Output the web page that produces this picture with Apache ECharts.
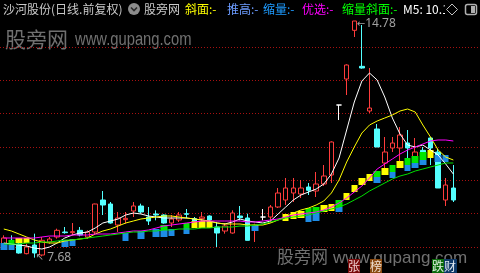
<!DOCTYPE html>
<html><head><meta charset="utf-8">
<script src="https://cdn.jsdelivr.net/npm/echarts@6/dist/echarts.min.js"></script>
<style>html,body{margin:0;padding:0;background:#000;}#c{width:480px;height:273px;}</style>
</head><body><div id="c"></div>
<script>
const categories = ['01','02','03','04','05','06','07','08','09','10','11','12','13','14','15','16','17','18','19','20',
'21','22','23','24','25','26','27','28','29','30','31','32','33','34','35','36','37','38','39','40',
'41','42','43','44','45','46','47','48','49','50','51','52','53','54','55','56','57','58','59','60'];

const openP  = [8.00,8.20,8.09,7.80,8.06,7.76,8.15,8.30,8.45,8.43, 8.50,8.30,8.45,9.41,9.29,8.66,8.82,9.08,9.23,8.90,
                8.99,8.96,8.72,8.81,9.00,8.85,8.85,8.93,8.60,8.48, 8.42,8.93,8.87,8.50,8.90,8.90,9.20,9.41,9.62,9.59,
                9.80,9.68,9.89,10.16,12.26,13.04,14.50,13.42,12.08,11.54, 10.52,10.97,10.97,11.12,10.70,10.90,11.27,10.85,9.41,9.77];
const closeP = [8.27,8.10,7.82,8.00,7.82,8.20,8.24,8.50,8.43,8.46, 8.36,8.45,9.29,9.26,8.72,8.87,8.86,9.23,9.05,8.78,
                8.96,8.72,8.84,8.96,8.98,8.78,8.90,8.81,8.42,8.63, 9.02,8.88,8.20,8.66,8.90,9.20,9.62,9.77,9.77,9.77,
                9.70,9.89,10.13,11.15,12.26,13.46,14.78,13.37,12.17,11.00, 10.85,11.12,11.36,10.97,10.85,10.75,10.97,9.77,9.86,9.41];
const lowP   = [7.98,8.05,7.80,7.78,7.68,7.72,8.10,8.25,8.40,8.35, 8.32,8.25,8.38,8.96,8.70,8.45,8.70,8.90,9.00,8.66,
                8.80,8.70,8.60,8.75,8.86,8.75,8.78,8.78,8.00,8.40, 8.40,8.80,8.20,8.15,8.80,8.72,9.17,9.26,9.35,9.47,
                9.56,9.50,9.83,9.92,11.81,12.56,14.30,13.35,12.02,11.00, 10.37,10.85,10.52,10.52,10.55,10.70,10.46,9.77,9.23,9.35];
const highP  = [8.35,8.35,8.15,8.10,8.40,8.30,8.30,8.55,8.60,8.72, 8.60,8.50,9.30,9.68,9.35,9.05,9.05,9.35,9.30,9.20,
                9.10,8.98,8.96,9.05,9.14,8.90,9.05,8.95,8.75,8.72, 9.10,9.23,9.00,8.70,9.14,9.26,9.77,10.07,10.07,10.01,
                9.92,10.25,10.46,11.17,12.26,13.48,14.78,14.66,13.37,11.69, 11.30,11.30,11.60,11.51,11.27,11.00,11.30,10.95,10.07,10.46];

const ma5  = [8.12,8.09,8.06,8.03,7.97,7.94,8.00,8.12,8.27,8.36, 8.42,8.45,8.57,8.72,8.78,8.84,8.96,9.02,8.99,8.93,
              8.90,8.87,8.87,8.87,8.87,8.84,8.81,8.78,8.72,8.69, 8.75,8.84,8.78,8.75,8.72,8.78,8.99,9.20,9.41,9.56,
              9.65,9.74,9.89,10.19,10.67,11.51,12.35,12.98,13.22,13.01, 12.50,11.87,11.39,11.06,11.00,11.06,10.91,10.76,10.49,10.19];
const ma10 = [8.54,8.48,8.39,8.30,8.21,8.15,8.12,8.12,8.18,8.21, 8.24,8.27,8.39,8.48,8.54,8.63,8.72,8.78,8.84,8.87,
              8.90,8.93,8.93,8.90,8.87,8.84,8.81,8.78,8.72,8.69, 8.69,8.69,8.66,8.66,8.66,8.72,8.81,8.90,9.02,9.11,
              9.17,9.26,9.38,9.62,10.01,10.55,11.00,11.42,11.66,11.78, 11.87,11.96,12.08,12.14,12.05,11.66,11.30,10.91,10.70,10.61];
const ma20 = [8.27,8.27,8.27,8.27,8.27,8.30,8.33,8.33,8.33,8.36, 8.36,8.36,8.39,8.39,8.39,8.42,8.45,8.48,8.48,8.51,
              8.57,8.63,8.66,8.69,8.72,8.75,8.78,8.78,8.78,8.78, 8.78,8.78,8.75,8.75,8.78,8.81,8.84,8.90,8.96,8.99,
              9.02,9.05,9.11,9.20,9.32,9.47,9.65,9.83,10.07,10.34, 10.49,10.64,10.79,10.91,11.00,11.09,11.18,11.21,11.21,11.18];
const ma60 = [8.09,8.09,8.09,8.12,8.12,8.15,8.15,8.18,8.21,8.21, 8.24,8.27,8.30,8.33,8.36,8.39,8.42,8.45,8.45,8.48,
              8.48,8.51,8.51,8.54,8.54,8.54,8.57,8.57,8.60,8.60, 8.60,8.63,8.63,8.66,8.69,8.75,8.81,8.87,8.90,8.93,
              8.96,9.02,9.08,9.14,9.20,9.29,9.41,9.53,9.68,9.80, 9.92,10.04,10.13,10.19,10.28,10.34,10.40,10.46,10.52,10.52];

// signal boxes: [index, bottom, top]
const yellowBoxes = [[2,8.12,8.27],[3,8.12,8.27],[25,8.57,8.78],[26,8.57,8.78],[27,8.57,8.78],[37,8.78,8.99],[38,8.84,9.05],
  [39,8.87,9.08],[42,9.05,9.26],[43,9.08,9.29],[45,9.41,9.62],[46,9.65,9.86],[47,9.86,10.07],[48,9.98,10.19],
  [50,10.16,10.37],[52,10.37,10.58],[56,10.67,10.91]];
const greenBoxes = [[1,8.06,8.21],[21,8.51,8.66],[24,8.57,8.72],[40,8.99,9.17],[41,9.05,9.20],[44,9.20,9.41],
  [49,10.10,10.28],[51,10.25,10.46],[53,10.46,10.67],[54,10.52,10.73],[55,10.61,10.85]];
const blueBoxes = [[0,7.91,8.12],[1,7.91,8.06],[8,8.00,8.21],[9,8.03,8.24],[16,8.18,8.42],[18,8.24,8.48],[20,8.30,8.54],
  [21,8.30,8.51],[22,8.33,8.54],[24,8.39,8.57],[33,8.48,8.66],[40,8.75,8.99],[41,8.78,9.05],[44,9.05,9.20],
  [49,9.92,10.10],[51,10.07,10.25],[53,10.28,10.46],[54,10.37,10.52],[55,10.46,10.61],[57,10.55,10.76],[58,10.55,10.76]];

const yTicks = [8, 14, 1];

const kData = categories.map((c, i) => [openP[i], closeP[i], lowP[i], highP[i]]);
const hiVal = Math.max.apply(null, highP), hiIdx = highP.indexOf(hiVal);
const loVal = Math.min.apply(null, lowP), loIdx = lowP.indexOf(loVal);

function boxData(list) {
  const arr = categories.map(() => ['-', '-', '-', '-']);
  list.forEach(b => { arr[b[0]] = [b[1], b[2], b[1], b[2]]; });
  return arr;
}
function boxSeries(name, list, col) {
  return { name: name, type: 'candlestick', data: boxData(list), barWidth: 7, clip: false, silent: true,
    itemStyle: { color: col, color0: col, borderColor: col, borderColor0: col, borderWidth: 0 } };
}
function maSeries(name, d, col) {
  return { name: name, type: 'line', data: d, showSymbol: false, symbol: 'none', clip: false, silent: true,
    lineStyle: { color: col, width: 1 } };
}

const CJK = '"Noto Sans CJK SC"';
const chart = echarts.init(document.getElementById('c'), null, { renderer: 'canvas' });
const wm = 'rgba(140,140,140,0.8)';
const richLbl = { a: { fontFamily: 'DejaVu Sans', fontSize: 10, color: '#C8C8C8' },
                  b: { fontFamily: 'Noto Sans', fontSize: 12, color: '#C8C8C8' } };
chart.setOption({
  backgroundColor: '#000000',
  animation: false,
  grid: { left: 0, right: 0, top: 47, bottom: 26 },
  xAxis: { type: 'category', data: categories, max: categories.length + 2, boundaryGap: true,
    axisLine: { show: false }, axisTick: { show: false }, axisLabel: { show: false }, splitLine: { show: false } },
  yAxis: { type: 'value', min: yTicks[0], max: yTicks[1], interval: yTicks[2],
    axisLine: { show: false }, axisTick: { show: false }, axisLabel: { show: false },
    splitLine: { show: true, lineStyle: { color: '#A81010', width: 1, type: [1, 2] } } },
  series: [
    { name: 'K', type: 'candlestick', data: kData, barWidth: 5, clip: false,
      itemStyle: { color: '#000000', color0: '#54FFFF', borderColor: '#FF3C3C', borderColor0: '#54FFFF',
        borderColorDoji: '#FFFFFF', borderWidth: 1 }
    },
    maSeries('MA5', ma5, '#FFFFFF'),
    maSeries('MA10', ma10, '#FFFF00'),
    maSeries('MA20', ma20, '#FF00FF'),
    maSeries('MA60', ma60, '#00E000'),
    boxSeries('斜面', yellowBoxes, '#FFFF00'),
    boxSeries('缩量斜面', greenBoxes, '#00E600'),
    boxSeries('缩量', blueBoxes, '#1E8CE6'),
    { name: 'extremes', type: 'scatter', silent: true, clip: false, symbolSize: 1,
      itemStyle: { color: 'rgba(0,0,0,0)' },
      data: [
        { value: [hiIdx, hiVal], label: { show: true, position: 'right', distance: 2, offset: [0, 3], rich: richLbl,
            formatter: '{a|←}{b|' + hiVal.toFixed(2) + '}' } },
        { value: [loIdx, loVal], label: { show: true, position: 'right', distance: 1, offset: [0, 0], rich: richLbl,
            formatter: '{a|↖ }{b|' + loVal.toFixed(2) + '}' } }
      ] }
  ],
  graphic: [
    { type: 'text', x: 5, y: 39, silent: true, style: { text: '股旁网', font: '21px ' + CJK, fill: wm, verticalAlign: 'middle' } },
    { type: 'text', x: 75, y: 40, scaleX: 0.82, silent: true, style: { text: 'www.gupang.com', font: '18px "Liberation Sans"', fill: wm, verticalAlign: 'middle' } },
    { type: 'text', x: 277, y: 257, silent: true, style: { text: '股旁网', font: '17px ' + CJK, fill: wm, verticalAlign: 'middle' } },
    { type: 'text', x: 333, y: 258, silent: true, style: { text: 'www.gupang.com', font: '17px "Liberation Sans"', fill: wm, verticalAlign: 'middle' } },

    { type: 'rect', shape: { x: 348, y: 259, width: 12, height: 14 }, style: { fill: '#7A0A0A' } },
    { type: 'text', x: 354, y: 266, style: { text: '张', font: '12px ' + CJK, fill: '#F0D0D0', align: 'center', verticalAlign: 'middle' } },
    { type: 'rect', shape: { x: 370, y: 259, width: 12, height: 14 }, style: { fill: '#8A4A10' } },
    { type: 'text', x: 376, y: 266, style: { text: '榜', font: '12px ' + CJK, fill: '#F0E0D0', align: 'center', verticalAlign: 'middle' } },
    { type: 'rect', shape: { x: 432, y: 259, width: 12, height: 14 }, style: { fill: '#0A6A0A' } },
    { type: 'text', x: 438, y: 266, style: { text: '跌', font: '12px ' + CJK, fill: '#E0F0E0', align: 'center', verticalAlign: 'middle' } },
    { type: 'rect', shape: { x: 444, y: 259, width: 13, height: 14 }, style: { fill: '#0E3868' } },
    { type: 'text', x: 450, y: 266, style: { text: '财', font: '12px ' + CJK, fill: '#E0E8F0', align: 'center', verticalAlign: 'middle' } },

    { type: 'text', x: 3, y: 9, style: { text: '沙河股份(日线.前复权)', font: '12px ' + CJK, fill: '#C8C8C8', verticalAlign: 'middle' } },
    { type: 'circle', shape: { cx: 134, cy: 9, r: 6 }, style: { fill: '#8C8C8C' } },
    { type: 'polyline', shape: { points: [[131, 7.5], [134, 10.5], [137, 7.5]] }, style: { stroke: '#2A2A2A', lineWidth: 1.6, fill: null } },
    { type: 'text', x: 144, y: 9, style: { text: '股旁网', font: '12px ' + CJK, fill: '#C8C8C8', verticalAlign: 'middle' } },
    { type: 'text', x: 185, y: 9, style: { text: '斜面:-', font: '12px ' + CJK, fill: '#FFFF00', verticalAlign: 'middle' } },
    { type: 'text', x: 227, y: 9, style: { text: '推高:-', font: '12px ' + CJK, fill: '#6C9CFF', verticalAlign: 'middle' } },
    { type: 'text', x: 263, y: 9, style: { text: '缩量:-', font: '12px ' + CJK, fill: '#1E9BFF', verticalAlign: 'middle' } },
    { type: 'text', x: 302, y: 9, style: { text: '优选:-', font: '12px ' + CJK, fill: '#FF00FF', verticalAlign: 'middle' } },
    { type: 'text', x: 342, y: 9, style: { text: '缩量斜面:-', font: '12px ' + CJK, fill: '#00FF00', verticalAlign: 'middle' } },
    { type: 'text', x: 403, y: 9, style: { text: 'M5: 10.18', font: '12px ' + CJK, fill: '#FFFFFF', verticalAlign: 'middle' } },
    { type: 'rect', shape: { x: 445, y: 0, width: 35, height: 19 }, style: { fill: '#000000' } },
    { type: 'polygon', shape: { points: [[452, 4], [457.5, 9.5], [452, 15], [446.5, 9.5]] }, style: { stroke: '#C0C0C0', lineWidth: 1, fill: null } },
    { type: 'rect', shape: { x: 465.5, y: 4.5, width: 11, height: 10, r: 2 }, style: { stroke: '#B0B0B0', lineWidth: 1.5, fill: null } },
    { type: 'rect', shape: { x: 471, y: 6, width: 4, height: 7 }, style: { fill: '#B0B0B0' } }
  ]
});
</script></body></html>
